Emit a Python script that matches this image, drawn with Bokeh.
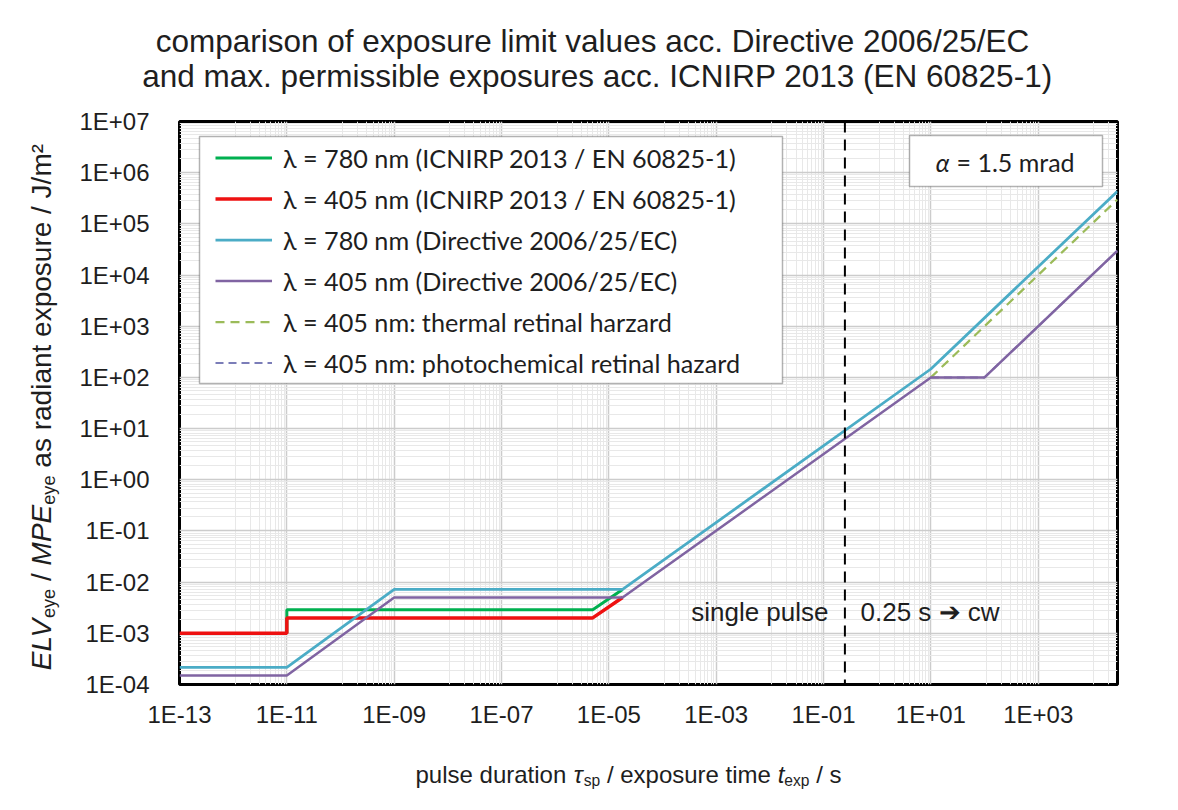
import math
from bokeh.plotting import figure
from bokeh.layouts import column, row
from bokeh.models import (FixedTicker, CustomJSTickFormatter, Label, Legend, LegendItem,
                          BoxAnnotation, Span, Range1d)
from bokeh.embed import file_html
from bokeh.resources import INLINE

# ---------------- data ----------------
t_icnirp_780 = [1e-11, 1e-11, 5e-6, 1.8e-5]
h_icnirp_780 = [1e-3, 2.89e-3, 2.89e-3, 7.2e-3]
t_icnirp_405 = [1e-13, 1e-11, 1e-11, 5e-6, 1.8e-5]
h_icnirp_405 = [1e-3, 1e-3, 2e-3, 2e-3, 5e-3]
t_dir_780 = [1e-13, 1e-11, 1e-9, 1.8e-5, 10, 3e4]
h_dir_780 = [2.17e-4, 2.17e-4, 7.2e-3, 7.2e-3, 146, 4.34e5]
t_dir_405 = [1e-13, 1e-11, 1e-9, 1.8e-5, 10, 100, 3e4]
h_dir_405 = [1.5e-4, 1.5e-4, 5e-3, 5e-3, 100, 100, 3e4]
t_thermal_405 = [10, 3e4]
h_thermal_405 = [100, 3e5]
t_photo_405 = [10, 100, 3e4]
h_photo_405 = [100, 100, 3e4]
t_cw = 0.25
x_ticks = [1e-13, 1e-11, 1e-9, 1e-7, 1e-5, 1e-3, 1e-1, 1e1, 1e3]
y_ticks = [1e-4, 1e-3, 1e-2, 1e-1, 1e0, 1e1, 1e2, 1e3, 1e4, 1e5, 1e6, 1e7]
legend_labels = [
    "λ = 780 nm (ICNIRP 2013 / EN 60825-1)",
    "λ = 405 nm (ICNIRP 2013 / EN 60825-1)",
    "λ = 780 nm (Directive 2006/25/EC)",
    "λ = 405 nm (Directive 2006/25/EC)",
    "λ = 405 nm: thermal retinal harzard",
    "λ = 405 nm: photochemical retinal hazard",
]
title_lines = ["comparison of exposure limit values acc. Directive 2006/25/EC",
               "and max. permissible exposures acc. ICNIRP 2013 (EN 60825-1)"]
alpha_text = ("α", "= 1.5 mrad")
pulse_texts = ("single pulse", "0.25 s ➔ cw")

# ---------------- styles / layout ----------------
ARIAL = "Liberation Sans"
TEXT = "#1e1e1e"
PAGE_W, PAGE_H = 1178, 806
TITLE_H, XLAB_H, YLAB_W = 100, 76, 76
MAIN_W, MAIN_H = PAGE_W - YLAB_W, PAGE_H - TITLE_H - XLAB_H
FRAME_LEFT, FRAME_TOP, FW, FH = 179, 121, 938, 564      # page pixels
FRAME_BOTTOM = FRAME_TOP + FH
FL, FT = FRAME_LEFT - YLAB_W, FRAME_TOP - TITLE_H
FR, FB = MAIN_W - FL - FW, MAIN_H - FT - FH

# Excel-like minor gridlines (linear subdivisions of each log cycle)
x_minor = [m * (1 + 9.9 * k) for m in x_ticks for k in range(1, 10)]
y_minor = [m * (1 + 0.9 * k) for m in y_ticks[:-1] for k in range(1, 10)]

p = figure(width=MAIN_W, height=MAIN_H, x_axis_type="log", y_axis_type="log",
           x_range=Range1d(1e-13, 3e4), y_range=Range1d(1e-4, 1e7),
           output_backend="svg", toolbar_location=None,
           min_border_left=FL, min_border_right=FR, min_border_top=FT, min_border_bottom=FB)
p.background_fill_color = "white"
p.border_fill_color = "white"
p.outline_line_color = "black"
p.outline_line_width = 3

xt = FixedTicker(ticks=x_ticks, minor_ticks=x_minor)
yt = FixedTicker(ticks=y_ticks, minor_ticks=y_minor)
fmt = CustomJSTickFormatter(code="""
const e = Math.round(Math.log10(tick));
const a = Math.abs(e);
return "1E" + (e < 0 ? "-" : "+") + (a < 10 ? "0" : "") + a;
""")
for ax, tk in ((p.xaxis[0], xt), (p.yaxis[0], yt)):
    ax.ticker = tk
    ax.formatter = fmt
    ax.axis_line_color = None
    ax.major_tick_line_color = None
    ax.minor_tick_line_color = None
    ax.major_tick_out = 0
    ax.major_tick_in = 0
    ax.minor_tick_out = 0
    ax.minor_tick_in = 0
    ax.major_label_text_font = ARIAL
    ax.major_label_text_font_size = "24px"
    ax.major_label_text_color = TEXT
p.xaxis.major_label_standoff = 16
p.yaxis.major_label_standoff = 30

for g, tk in ((p.xgrid[0], xt), (p.ygrid[0], yt)):
    g.ticker = tk
    g.grid_line_color = "#cccccc"
    g.grid_line_width = 1.5
    g.minor_grid_line_color = "#e8e8e8"
    g.minor_grid_line_width = 1

# ---------------- series ----------------
r_green = p.line(t_icnirp_780, h_icnirp_780, line_color="#00B050", line_width=3)
r_red = p.line(t_icnirp_405, h_icnirp_405, line_color="#EE1111", line_width=3.5)
r_photo = p.line(t_photo_405, h_photo_405, line_color="#7B7DB8", line_width=2, line_dash="8 5")
r_therm = p.line(t_thermal_405, h_thermal_405, line_color="#9BBB59", line_width=2.25, line_dash="9 6")
r_cyan = p.line(t_dir_780, h_dir_780, line_color="#4BACC6", line_width=2.75)
r_purple = p.line(t_dir_405, h_dir_405, line_color="#8064A2", line_width=2.5)

p.add_layout(Span(location=t_cw, dimension="height", line_color="black",
                  line_width=2, line_dash="11 7"))


def screen_box(l, r, b, t):
    return BoxAnnotation(left=l, right=r, bottom=b, top=t,
                         left_units="screen", right_units="screen",
                         bottom_units="screen", top_units="screen",
                         fill_color="white", fill_alpha=1.0,
                         line_color="black", line_width=1.5)


# ---------------- legend ----------------
p.add_layout(screen_box(20, 603, 301, 548))
legend = Legend(items=[LegendItem(label=l, renderers=[r]) for l, r in zip(
    legend_labels, [r_green, r_red, r_cyan, r_purple, r_therm, r_photo])],
    location=(36, 301), padding=0, margin=0, spacing=0,
    glyph_width=57, glyph_height=41, label_height=41, label_standoff=11,
    label_text_font="Lato", label_text_font_size="25.2px", label_text_color=TEXT,
    border_line_color=None, background_fill_alpha=0)
p.add_layout(legend)

# alpha box
p.add_layout(screen_box(730, 923, 498, 549))
p.add_layout(Label(x=770, y=523, x_units="screen", y_units="screen", text=alpha_text[0],
                   text_font="Lato", text_font_style="italic", text_font_size="25px",
                   text_color=TEXT, text_align="right", text_baseline="middle"))
p.add_layout(Label(x=777, y=523, x_units="screen", y_units="screen", text=alpha_text[1],
                   text_font="Lato", text_font_size="25px",
                   text_color=TEXT, text_align="left", text_baseline="middle"))

# single pulse / cw
p.add_layout(Label(x=649, y=73, x_units="screen", y_units="screen", text=pulse_texts[0],
                   text_font=ARIAL, text_font_size="26px", text_color=TEXT,
                   text_align="right", text_baseline="middle"))
p.add_layout(Label(x=681, y=73, x_units="screen", y_units="screen", text=pulse_texts[1],
                   text_font=ARIAL, text_font_size="26px", text_color=TEXT,
                   text_align="left", text_baseline="middle"))


# ---------------- text panels (title, axis titles) ----------------
def text_panel(w, h):
    f = figure(width=w, height=h, x_range=Range1d(0, w), y_range=Range1d(0, h),
               output_backend="svg", toolbar_location=None, min_border=0,
               x_axis_location=None, y_axis_location=None)
    f.grid.visible = False
    f.outline_line_color = None
    f.background_fill_color = "white"
    f.border_fill_color = "white"
    return f


title_fig = text_panel(PAGE_W, TITLE_H)
for line, x, y in zip(title_lines, [592, 597], [60, 25]):
    title_fig.add_layout(Label(x=x, y=y, x_units="screen", y_units="screen", text=line,
                               text_font=ARIAL, text_font_size="31.5px", text_color=TEXT,
                               text_align="center", text_baseline="middle"))

AW = {' ': 278, '(': 333, ')': 333, '+': 584, '-': 333, '.': 278, '/': 278, '=': 584, '²': 333,
      'A': 667, 'E': 667, 'J': 500, 'L': 556, 'M': 833, 'P': 667, 'V': 667,
      'a': 556, 'b': 556, 'c': 500, 'd': 556, 'e': 556, 'i': 222, 'l': 222, 'm': 833, 'n': 556,
      'o': 556, 'p': 556, 'r': 333, 's': 500, 't': 278, 'u': 556, 'x': 500, 'y': 500, 'τ': 450}
SUB = 0.65


def text_w(s, size):
    return sum(AW.get(c, 556) for c in s) / 1000.0 * size


def rich_label(fig, pieces, fs, x0, y0, rotated=False):
    """Pieces are centred one by one (baseline 'middle'); subscripts drop 0.27 em."""
    sizes = [fs * SUB if sub else fs for _, _, sub in pieces]
    widths = [text_w(t, s) for (t, _, _), s in zip(pieces, sizes)]
    pos = -sum(widths) / 2.0
    for (t, style, sub), s, w in zip(pieces, sizes, widths):
        lead = t[:len(t) - len(t.lstrip())]
        shown = t.strip()
        off = fs * 0.27 if sub else 0.0
        centre = pos + text_w(lead, s) + text_w(shown, s) / 2.0
        if rotated:
            x, y, ang = x0 + off, y0 + centre, math.pi / 2
        else:
            x, y, ang = x0 + centre, y0 - off, 0.0
        if shown:
            fig.add_layout(Label(x=x, y=y, x_units="screen", y_units="screen", text=shown,
                                 angle=ang, text_font=ARIAL, text_font_style=style,
                                 text_font_size=f"{s:.1f}px", text_color=TEXT,
                                 text_align="center", text_baseline="middle"))
        pos += w


# x-axis title: its panel's frame is the whole panel (bottom edge = page bottom)
xlab_fig = text_panel(PAGE_W, XLAB_H)
rich_label(xlab_fig, [("pulse duration ", "normal", False), ("τ", "italic", False),
                      ("sp", "normal", True), (" / exposure time ", "normal", False),
                      ("t", "italic", False), ("exp", "normal", True), (" / s", "normal", False)],
           24, 628, PAGE_H - 774)

# y-axis title: in a row the panel's frame is aligned with the main frame
ylab_fig = text_panel(YLAB_W, MAIN_H)
rich_label(ylab_fig, [("ELV", "italic", False), ("eye", "normal", True), (" / ", "normal", False),
                      ("MPE", "italic", False), ("eye", "normal", True),
                      (" as radiant exposure / J/m²", "normal", False)],
           28, 41, FRAME_BOTTOM - 408, rotated=True)

layout = column(title_fig, row(ylab_fig, p, spacing=0), xlab_fig, spacing=0)
open("out.html", "w").write(file_html(layout, INLINE))
